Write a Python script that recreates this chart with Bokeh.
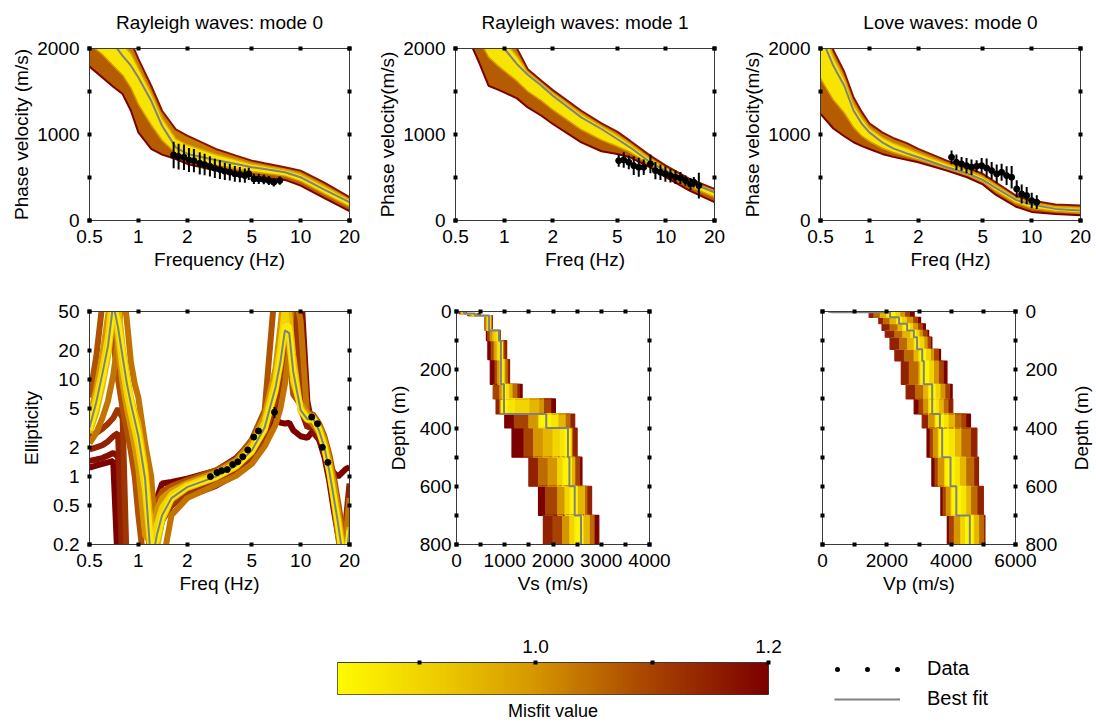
import numpy as np
from bokeh.plotting import figure
from bokeh.models import (Range1d, FixedTicker, LinearAxis, LogAxis, Legend,
                          LegendItem, LinearColorMapper, CustomLabelingPolicy)
from bokeh.layouts import column, row
from bokeh.embed import file_html
from bokeh.resources import INLINE

FONT = "Liberation Sans"
GRAY = "#808080"
FRAME = "#3a3a3a"

# ------------------------------------------------------------------ data
MISFIT_LOW, MISFIT_HIGH = 0.83, 1.2
CB_TICKS = [0.9, 1.0, 1.1, 1.2]
CB_LABELS = {0.9: "", 1.0: "1.0", 1.1: "", 1.2: "1.2"}

FREQ = [0.5, 0.6, 0.7, 0.8, 0.9, 1.0, 1.2, 1.4, 1.7, 2, 3, 4, 5, 6, 8, 10, 14, 20]
FREQ_TICKS = [0.5, 1, 2, 5, 10, 20]
FREQ_LABELS = {0.5: "0.5", 1: "1", 2: "2", 5: "5", 10: "10", 20: "20"}
VEL_TICKS = [0, 500, 1000, 1500, 2000]
VEL_LABELS = {0: "0", 500: "", 1000: "1000", 1500: "", 2000: "2000"}

# Rayleigh mode 0: envelope curves and best model
R0_BEST = [2350, 2200, 2060, 1915, 1800, 1663, 1392, 1102, 850, 774, 704, 658, 619, 600, 561, 503, 360, 213]
R0_HIGH2 = [2500, 2400, 2300, 2200, 2080, 1880, 1567, 1276, 1060, 986, 832, 754, 696, 665, 619, 580, 440, 271]
R0_HIGH1 = [2420, 2300, 2180, 2050, 1940, 1770, 1480, 1190, 950, 880, 768, 706, 658, 632, 590, 540, 400, 242]
R0_LOW1 = [2050, 1930, 1800, 1690, 1540, 1350, 1110, 930, 780, 716, 642, 600, 566, 548, 516, 455, 310, 160]
R0_LOW2 = [1790, 1663, 1555, 1470, 1276, 1025, 832, 766, 715, 658, 580, 542, 514, 495, 472, 406, 260, 108]
R0_DATA_F = [1.65, 1.77, 1.91, 2.05, 2.2, 2.39, 2.56, 2.76, 2.96, 3.18, 3.41, 3.66, 3.93, 4.22, 4.53, 4.79, 5.15, 5.52, 5.93, 6.37, 6.83, 7.44]
R0_DATA_V = [762, 743, 735, 704, 696, 665, 650, 630, 607, 592, 572, 561, 542, 534, 522, 542, 483, 483, 476, 464, 445, 464]
R0_DATA_E = [155, 150, 148, 140, 135, 130, 125, 118, 112, 108, 100, 96, 92, 88, 82, 70, 60, 58, 55, 52, 50, 48]

# Rayleigh mode 1
R1_BEST = [2700, 2500, 2350, 2220, 2100, 2000, 1818, 1694, 1566, 1450, 1199, 1064, 948, 851, 677, 580, 445, 329]
R1_HIGH2 = [3000, 2800, 2600, 2450, 2300, 2180, 2000, 1760, 1625, 1516, 1276, 1129, 1033, 928, 754, 638, 483, 367]
R1_HIGH1 = [2850, 2650, 2470, 2330, 2200, 2090, 1910, 1727, 1595, 1483, 1238, 1097, 990, 890, 716, 609, 464, 348]
R1_LOW1 = [2520, 2310, 2100, 1900, 1810, 1740, 1620, 1500, 1390, 1285, 1055, 935, 860, 793, 648, 541, 396, 271]
R1_LOW2 = [2350, 2120, 1837, 1567, 1528, 1489, 1420, 1315, 1218, 1122, 909, 805, 774, 735, 619, 503, 348, 213]
R1_DATA_F = [5.11, 5.49, 5.90, 6.33, 6.80, 7.30, 8.03, 8.62, 9.26, 9.94, 10.68, 11.47, 12.31, 13.22, 14.20, 14.89, 16.0]
R1_DATA_V = [696, 704, 677, 638, 619, 619, 658, 580, 561, 542, 522, 503, 495, 464, 425, 445, 406]
R1_DATA_E = [70, 90, 80, 110, 110, 90, 110, 100, 90, 90, 80, 80, 70, 60, 70, 60, 150]

# Love mode 0
L0_BEST = [2150, 1799, 1567, 1276, 1122, 1025, 909, 839, 781, 735, 619, 549, 472, 379, 240, 186, 135, 116]
L0_HIGH2 = [2500, 1980, 1730, 1430, 1260, 1130, 1025, 960, 900, 832, 696, 619, 542, 445, 290, 232, 186, 174]
L0_HIGH1 = [2300, 1900, 1650, 1350, 1190, 1075, 965, 900, 840, 785, 658, 584, 507, 412, 265, 209, 160, 145]
L0_LOW1 = [1650, 1400, 1250, 1080, 980, 920, 840, 790, 745, 706, 600, 526, 446, 340, 200, 143, 105, 88]
L0_LOW2 = [1240, 1070, 980, 910, 865, 832, 774, 740, 705, 677, 580, 503, 420, 300, 160, 100, 75, 60]
L0_DATA_F = [3.21, 3.44, 3.70, 3.97, 4.26, 4.58, 4.92, 5.28, 5.67, 6.09, 6.53, 7.01, 7.53, 8.09, 8.68, 9.32, 10.01, 10.75]
L0_DATA_V = [735, 677, 658, 638, 620, 630, 638, 610, 580, 542, 561, 522, 503, 367, 309, 290, 232, 213]
L0_DATA_E = [80, 90, 80, 90, 90, 70, 90, 110, 100, 110, 100, 110, 130, 100, 110, 100, 90, 80]

# Ellipticity (values above 50 / below 0.2 lie off the chart)
ELL_F = [0.5, 0.55, 0.6, 0.65, 0.7, 0.75, 0.8, 0.85, 0.9, 0.95, 1.0, 1.1, 1.2, 1.3, 1.4, 1.6, 2, 3, 4, 5,
         6, 7, 7.5, 8, 8.5, 9, 10, 11, 12, 13, 14, 15, 16, 17, 18, 19, 20]
ELL_TICKS = [0.2, 0.5, 1, 2, 5, 10, 20, 50]
ELL_LABELS = {0.2: "0.2", 0.5: "0.5", 1: "1", 2: "2", 5: "5", 10: "10", 20: "20", 50: "50"}
ELL_BEST = [3.2, 5.8, 11.4, 22, 60, 34, 17, 9, 5.6, 3.8, 2.6, 0.95, 0.12, 0.25, 0.4, 0.6, 0.78, 1.0, 1.3, 1.86,
            3.2, 8.3, 15, 32, 30, 12, 4.8, 3.9, 3.9, 2.96, 2.0, 1.15, 0.61, 0.33, 0.17, 0.12, 0.3]
ELL_MISFIT = [1.2, 1.18, 1.15, 1.12, 1.08, 1.04, 1.0, 0.95, 0.9, 0.86]
ELL_M1 = [1.24, 1.3, 1.35, 1.4, 1.45, 0.1, 0.1, 0.1, 0.1, 0.1, 0.1, 0.1, 0.1, 0.6, 0.85, 0.88, 0.95, 1.15, 1.55, 2.3,
          3.4, 3.8, 3.6, 3.5, 3.6, 3.0, 2.6, 2.5, 3.0, 2.4, 1.8, 1.3, 1.1, 1.0, 1.1, 1.2, 1.25]
ELL_M2 = [1.45, 1.5, 1.55, 1.65, 1.75, 1.6, 0.1, 0.1, 0.1, 0.1, 0.1, 0.1, 0.1, 0.3, 0.45, 0.55, 0.62, 0.8, 1.05, 1.4,
          2.1, 3.8, 6, 12, 40, 100, 100, 6, 2.8, 2.4, 1.6, 0.9, 0.45, 0.25, 0.15, 0.3, 0.65]
ELL_M3 = [1.9, 2.0, 2.1, 2.3, 2.6, 2.8, 0.1, 0.1, 0.1, 0.1, 0.1, 0.1, 0.15, 0.4, 0.6, 0.7, 0.8, 0.98, 1.3, 1.9,
          3.2, 8, 20, 100, 100, 30, 5, 3.2, 3.4, 2.7, 1.9, 1.1, 0.6, 0.35, 0.2, 0.35, 0.85]
ELL_M4 = [2.6, 2.8, 3.1, 3.5, 4.0, 5.0, 4.0, 0.1, 0.1, 0.1, 0.1, 0.1, 0.1, 0.2, 0.35, 0.5, 0.68, 0.9, 1.2, 1.7,
          2.7, 6, 11, 30, 100, 100, 12, 4.5, 3.9, 3.0, 2.1, 1.2, 0.6, 0.3, 0.15, 0.12, 0.5]
ELL_M5 = [6.5, 17, 60, 100, 25, 10, 5, 3, 1.8, 1.0, 0.4, 0.1, 0.3, 0.55, 0.7, 0.8, 0.92, 1.15, 1.5, 2.4,
          4.8, 100, 100, 100, 18, 7, 5.5, 4.6, 4.3, 3.5, 2.6, 1.7, 1.0, 0.55, 0.3, 0.18, 0.2]
ELL_M6 = [2.2, 2.8, 4.0, 6.0, 11, 25, 100, 40, 15, 9, 6.5, 2.2, 1.0, 0.15, 0.12, 0.4, 0.6, 0.82, 1.02, 1.35,
          2.05, 3.4, 5, 9, 20, 100, 40, 4, 3.4, 2.8, 2.0, 1.2, 0.55, 0.25, 0.12, 0.25, 0.6]
ELL_M7 = [4.0, 8, 18, 45, 100, 22, 9, 5, 3.2, 2.0, 1.2, 0.25, 0.2, 0.45, 0.6, 0.72, 0.86, 1.1, 1.45, 2.2,
          4.2, 13, 35, 100, 30, 9, 5.6, 4.4, 4.1, 3.3, 2.4, 1.5, 0.85, 0.45, 0.22, 0.12, 0.2]
ELL_M8 = [2.8, 4.5, 8.5, 17, 45, 60, 22, 11, 6.5, 4.6, 3.5, 1.3, 0.3, 0.18, 0.35, 0.58, 0.76, 0.97, 1.25, 1.78,
          3.0, 7.5, 14, 30, 50, 18, 4.7, 3.8, 3.8, 2.9, 1.95, 1.1, 0.58, 0.3, 0.15, 0.13, 0.3]
ELL_M9 = [3.6, 6.5, 13, 28, 90, 30, 13, 7, 4.4, 3.0, 2.0, 0.7, 0.15, 0.32, 0.48, 0.66, 0.82, 1.04, 1.37, 2.0,
          3.6, 10, 22, 55, 25, 10, 5.0, 4.1, 4.0, 3.1, 2.1, 1.25, 0.66, 0.36, 0.19, 0.12, 0.25]
ELL_M10 = [3.0, 5.3, 10, 20, 55, 40, 19, 10, 6, 4.0, 2.8, 1.1, 0.18, 0.22, 0.38, 0.6, 0.78, 0.99, 1.28, 1.82,
           3.1, 8, 16, 36, 35, 13, 4.9, 3.9, 3.9, 3.0, 2.0, 1.15, 0.6, 0.32, 0.16, 0.12, 0.28]
ELL_DATA_F = [2.78, 3.05, 3.26, 3.53, 3.81, 4.1, 4.4, 4.72, 5.14, 5.5, 6.9, 11.7, 12.7, 13.6, 14.7]
ELL_DATA_E = [1.0, 1.1, 1.15, 1.18, 1.33, 1.42, 1.6, 1.88, 2.55, 2.95, 4.6, 4.1, 3.5, 2.0, 1.4]
ELL_DATA_ERR = [0.05, 0.05, 0.05, 0.05, 0.06, 0.06, 0.08, 0.1, 0.15, 0.15, 0.6, 0.2, 0.2, 0.1, 0.08]

# Vs profiles (layer tops in m, velocity per layer)
DEPTH_MAX = 800
DEPTH_TICKS = [0, 100, 200, 300, 400, 500, 600, 700, 800]
DEPTH_LABELS = {0: "0", 100: "", 200: "200", 300: "", 400: "400", 500: "", 600: "600", 700: "", 800: "800"}
VS_TICKS = [0, 500, 1000, 1500, 2000, 2500, 3000, 3500, 4000]
VS_LABELS = {0: "0", 500: "", 1000: "1000", 1500: "", 2000: "2000", 2500: "", 3000: "3000", 3500: "", 4000: "4000"}
VS_TOP = [0, 7, 14, 65, 100, 165, 250, 300, 352, 400, 500, 600, 700]
VS_BEST = [150, 380, 675, 880, 920, 920, 985, 985, 1860, 2310, 2340, 2450, 2580]
VS_MISFIT = [0.84, 0.87, 0.90, 0.95, 1.00, 1.05, 1.10, 1.15, 1.20]
VS_M1 = [140, 360, 660, 860, 900, 940, 1010, 1050, 1950, 2250, 2380, 2500, 2620]
VS_M2 = [120, 330, 700, 830, 870, 980, 1080, 1200, 2100, 2150, 2200, 2350, 2450]
VS_M3 = [160, 400, 640, 780, 850, 900, 950, 1500, 1700, 2000, 2100, 2250, 2350]
VS_M4 = [100, 300, 620, 750, 820, 1000, 1150, 1700, 2250, 1800, 2450, 2650, 2750]
VS_M5 = [180, 420, 720, 700, 780, 850, 900, 1800, 1500, 1600, 1900, 2100, 2200]
VS_M6 = [80, 260, 600, 900, 980, 1050, 1250, 900, 2350, 2400, 1700, 2700, 2850]
VS_M7 = [190, 460, 730, 650, 720, 800, 760, 1950, 1200, 1400, 2550, 1850, 2000]
VS_M8 = [60, 230, 590, 910, 1040, 1100, 1300, 820, 2450, 2500, 1500, 2800, 1800]
VS_M9 = [200, 490, 740, 620, 650, 700, 1360, 2050, 1000, 1150, 2600, 1700, 2950]

# Vp profiles
VP_TICKS = [0, 1000, 2000, 3000, 4000, 5000, 6000]
VP_LABELS = {0: "0", 1000: "", 2000: "2000", 3000: "", 4000: "4000", 5000: "", 6000: "6000"}
VP_TOP = [0, 3, 20, 42, 65, 88, 130, 170, 250, 300, 352, 400, 500, 600, 700]
VP_BEST = [260, 2100, 2380, 2630, 2840, 2940, 3100, 3150, 3410, 3410, 3650, 3720, 3980, 4160, 4580]
VP_MISFIT = [0.84, 0.87, 0.90, 0.95, 1.00, 1.05, 1.10, 1.15, 1.20]
VP_M1 = [270, 2250, 2450, 2700, 2900, 3000, 3200, 3300, 3500, 3500, 3750, 3900, 4100, 4300, 4450]
VP_M2 = [300, 2000, 2300, 2500, 2750, 2850, 3000, 3050, 3300, 3600, 3900, 4100, 4250, 4450, 4700]
VP_M3 = [230, 2400, 2600, 2800, 3000, 3150, 3350, 3450, 3650, 3300, 3500, 3600, 3800, 4000, 4300]
VP_M4 = [350, 1800, 2100, 2350, 2500, 2650, 2850, 3000, 3150, 3750, 4100, 4300, 4450, 4600, 4850]
VP_M5 = [250, 2550, 2800, 2950, 3100, 3250, 3450, 3600, 3800, 3150, 3300, 3450, 3600, 3850, 4100]
VP_M6 = [400, 1600, 1900, 2100, 2250, 2400, 2550, 2700, 2900, 3900, 4300, 4600, 4700, 4800, 5000]
VP_M7 = [220, 2700, 2950, 3100, 3250, 3350, 3600, 3750, 3950, 3000, 4450, 3350, 3500, 3750, 3950]
VP_M8 = [420, 1450, 1750, 1850, 1950, 2100, 2250, 2450, 2600, 4050, 3100, 4800, 4850, 5000, 5050]
VP_M9 = [200, 2850, 3050, 3200, 3300, 3400, 3670, 3870, 4030, 2850, 4600, 3250, 3400, 3680, 3880]

# ------------------------------------------------------------------ colours
CMAP_STOPS = [(0.0, (255, 250, 0)), (0.25, (236, 200, 0)), (0.45, (214, 152, 0)),
              (0.7, (172, 74, 0)), (1.0, (124, 0, 0))]


def build_palette(n=256):
    pos = [s[0] for s in CMAP_STOPS]
    out = []
    for t in np.linspace(0, 1, n):
        rgb = [int(round(np.interp(t, pos, [s[1][k] for s in CMAP_STOPS]))) for k in range(3)]
        out.append("#%02x%02x%02x" % tuple(rgb))
    return out


PALETTE = build_palette()


def mcolor(m):
    t = (m - MISFIT_LOW) / (MISFIT_HIGH - MISFIT_LOW)
    i = int(round(min(max(t, 0), 1) * (len(PALETTE) - 1)))
    return PALETTE[i]


# ------------------------------------------------------------------ helpers
def no_labels():
    return CustomLabelingPolicy(code="const idx = Array.from(indices); for (const i of idx) indices.unset(i); return indices")


def style_axis(ax, ticks, labels=None, hide=False, title=None, standoff=8, label_standoff=4):
    ax.ticker = FixedTicker(ticks=ticks)
    ax.major_tick_line_color = "black"
    ax.major_tick_line_width = 4
    ax.major_tick_in = 2
    ax.major_tick_out = 2
    ax.minor_tick_line_color = None
    ax.axis_line_color = FRAME
    ax.axis_line_width = 1
    if hide:
        ax.major_label_text_font_size = "1px"
        ax.major_label_standoff = 0
        ax.major_label_policy = no_labels()
    else:
        ax.major_label_text_font = FONT
        ax.major_label_text_font_size = "19px"
        ax.major_label_text_color = "black"
        ax.major_label_standoff = standoff
        if labels is not None:
            ax.major_label_overrides = labels
    if title:
        ax.axis_label = title
        ax.axis_label_text_font = FONT
        ax.axis_label_text_font_size = "19px"
        ax.axis_label_text_font_style = "normal"
        ax.axis_label_text_color = "black"
        ax.axis_label_standoff = label_standoff


def unalign(p):
    if "frame_align" in p.properties():
        p.frame_align = False


def make_panel(width, height, borders, xr, yr, xlog, ylog, xticks, xlabels, yticks, ylabels,
               xtitle, ytitle, title=None, yside="left", ystand=8, ylabstand=4):
    bl, br, bt, bb = borders
    p = figure(width=width, height=height, x_range=xr, y_range=yr,
               x_axis_type="log" if xlog else "linear",
               y_axis_type="log" if ylog else "linear",
               y_axis_location=yside, output_backend="svg", toolbar_location=None,
               min_border_left=bl, min_border_right=br, min_border_top=bt, min_border_bottom=bb)
    unalign(p)
    p.xgrid.visible = False
    p.ygrid.visible = False
    p.outline_line_color = FRAME
    p.outline_line_width = 1
    p.background_fill_color = "white"
    p.border_fill_color = "white"
    if title:
        p.title.text = title
        p.title.text_font = FONT
        p.title.text_font_size = "19px"
        p.title.text_font_style = "normal"
        p.title.text_color = "black"
        p.title.align = "center"
        p.title.standoff = 19
    style_axis(p.xaxis[0], xticks, xlabels, title=xtitle, standoff=7, label_standoff=3)
    style_axis(p.yaxis[0], yticks, ylabels, title=ytitle, standoff=ystand, label_standoff=ylabstand)
    XA = LogAxis if xlog else LinearAxis
    YA = LogAxis if ylog else LinearAxis
    top = XA()
    style_axis(top, xticks, hide=True)
    p.add_layout(top, "above")
    other = YA()
    style_axis(other, yticks, hide=True)
    p.add_layout(other, "right" if yside == "left" else "left")
    return p


def dispersion(p, low2, low1, best, high1, high2, df, dv, de):
    p.varea(x=FREQ, y1=low2, y2=low1, fill_color=mcolor(1.07))
    p.varea(x=FREQ, y1=low1, y2=high1, fill_color=mcolor(0.87))
    p.varea(x=FREQ, y1=high1, y2=high2, fill_color=mcolor(1.03))
    p.line(FREQ, low1, line_color=mcolor(1.0), line_width=1.5)
    p.line(FREQ, high1, line_color=mcolor(0.97), line_width=1.5)
    p.line(FREQ, low2, line_color=mcolor(1.2), line_width=2)
    p.line(FREQ, high2, line_color=mcolor(1.17), line_width=2)
    p.line(FREQ, best, line_color=GRAY, line_width=2)
    p.segment(x0=df, x1=df, y0=[v - e for v, e in zip(dv, de)], y1=[v + e for v, e in zip(dv, de)],
              line_color="black", line_width=2)
    p.scatter(df, dv, size=6, fill_color="black", line_color="black")


def profile(p, tops, models, misfits, best):
    bottoms = tops[1:] + [DEPTH_MAX]
    L, R, T, B, C = [], [], [], [], []
    for j in range(len(tops)):
        vals = sorted((m[j], k) for k, m in enumerate(models))
        b = best[j]
        for (a, ia), (c, ic) in zip(vals[:-1], vals[1:]):
            if c <= b:
                outer = ia
            elif a >= b:
                outer = ic
            else:
                outer = ia if misfits[ia] < misfits[ic] else ic
            L.append(a); R.append(c); T.append(tops[j]); B.append(bottoms[j])
            C.append(mcolor(misfits[outer]))
    p.quad(left=L, right=R, top=T, bottom=B, fill_color=C, line_color=None)

    def steps(vals):
        xs, ys = [], []
        for j, v in enumerate(vals):
            xs += [v, v]
            ys += [tops[j], bottoms[j]]
        return xs, ys

    order = sorted(range(len(models)), key=lambda k: -misfits[k])
    for k in order:
        xs, ys = steps(models[k])
        p.line(xs, ys, line_color=mcolor(misfits[k]), line_width=1.2)
    xs, ys = steps(best)
    p.line(xs, ys, line_color=GRAY, line_width=2)


# ------------------------------------------------------------------ row 1
FR = lambda: Range1d(0.5, 20)
VR = lambda: Range1d(0, 2000)

pA = make_panel(365, 280, (89, 16, 48, 60), FR(), VR(), True, False, FREQ_TICKS, FREQ_LABELS,
                VEL_TICKS, VEL_LABELS, "Frequency (Hz)", "Phase velocity (m/s)",
                title="Rayleigh waves: mode 0", ylabstand=2)
dispersion(pA, R0_LOW2, R0_LOW1, R0_BEST, R0_HIGH1, R0_HIGH2, R0_DATA_F, R0_DATA_V, R0_DATA_E)

pB = make_panel(365, 280, (90, 16, 48, 60), FR(), VR(), True, False, FREQ_TICKS, FREQ_LABELS,
                VEL_TICKS, VEL_LABELS, "Freq (Hz)", "Phase velocity(m/s)",
                title="Rayleigh waves: mode 1", ylabstand=2)
dispersion(pB, R1_LOW2, R1_LOW1, R1_BEST, R1_HIGH1, R1_HIGH2, R1_DATA_F, R1_DATA_V, R1_DATA_E)

pC = make_panel(366, 280, (90, 16, 48, 60), FR(), VR(), True, False, FREQ_TICKS, FREQ_LABELS,
                VEL_TICKS, VEL_LABELS, "Freq (Hz)", "Phase velocity(m/s)",
                title="Love waves: mode 0", ylabstand=2)
dispersion(pC, L0_LOW2, L0_LOW1, L0_BEST, L0_HIGH1, L0_HIGH2, L0_DATA_F, L0_DATA_V, L0_DATA_E)

# ------------------------------------------------------------------ row 2
pD = make_panel(365, 324, (89, 16, 31, 60), FR(), Range1d(0.2, 50), True, True, FREQ_TICKS, FREQ_LABELS,
                ELL_TICKS, ELL_LABELS, "Freq (Hz)", "Ellipticity", ylabstand=8)
ell_models = [ELL_M1, ELL_M2, ELL_M3, ELL_M4, ELL_M5, ELL_M6, ELL_M7, ELL_M8, ELL_M9, ELL_M10]
for k in sorted(range(len(ell_models)), key=lambda k: -ELL_MISFIT[k]):
    pD.line(ELL_F, ell_models[k], line_color=mcolor(ELL_MISFIT[k]), line_width=6)
pD.line(ELL_F, ELL_BEST, line_color=GRAY, line_width=2)
pD.segment(x0=ELL_DATA_F, x1=ELL_DATA_F,
           y0=[e - s for e, s in zip(ELL_DATA_E, ELL_DATA_ERR)],
           y1=[e + s for e, s in zip(ELL_DATA_E, ELL_DATA_ERR)], line_color="black", line_width=2)
pD.scatter(ELL_DATA_F, ELL_DATA_E, size=6, fill_color="black", line_color="black")

pE = make_panel(427, 324, (91, 143, 31, 60), Range1d(0, 4000), Range1d(DEPTH_MAX, 0), False, False,
                VS_TICKS, VS_LABELS, DEPTH_TICKS, DEPTH_LABELS, "Vs (m/s)", "Depth (m)",
                ystand=3, ylabstand=8)
profile(pE, VS_TOP, [VS_M1, VS_M2, VS_M3, VS_M4, VS_M5, VS_M6, VS_M7, VS_M8, VS_M9], VS_MISFIT, VS_BEST)

pF = make_panel(276, 324, (30, 53, 31, 60), Range1d(0, 6000), Range1d(DEPTH_MAX, 0), False, False,
                VP_TICKS, VP_LABELS, DEPTH_TICKS, DEPTH_LABELS, "Vp (m/s)", None,
                yside="right", ystand=8)
profile(pF, VP_TOP, [VP_M1, VP_M2, VP_M3, VP_M4, VP_M5, VP_M6, VP_M7, VP_M8, VP_M9], VP_MISFIT, VP_BEST)

# side strip that carries the Vp depth-axis title, reading bottom to top
pG = figure(width=28, height=324, x_range=Range1d(0, 1), y_range=Range1d(DEPTH_MAX, 0),
            x_axis_location=None, y_axis_location="left", output_backend="svg", toolbar_location=None,
            min_border_left=26, min_border_right=0, min_border_top=31, min_border_bottom=60)
unalign(pG)
pG.grid.visible = False
pG.outline_line_color = None
gy = pG.yaxis[0]
gy.ticker = FixedTicker(ticks=[])
gy.axis_line_color = None
gy.major_tick_line_color = None
gy.minor_tick_line_color = None
gy.major_label_text_font_size = "1px"
gy.axis_label = "Depth (m)"
gy.axis_label_text_font = FONT
gy.axis_label_text_font_size = "19px"
gy.axis_label_text_font_style = "normal"
gy.axis_label_text_color = "black"
gy.axis_label_standoff = 5

# ------------------------------------------------------------------ row 3: colour bar + legend
cb = figure(width=790, height=121, x_range=Range1d(MISFIT_LOW, MISFIT_HIGH), y_range=Range1d(0, 1),
            y_axis_location=None, output_backend="svg", toolbar_location=None,
            min_border_left=337, min_border_right=22, min_border_top=58, min_border_bottom=31)
unalign(cb)
cb.grid.visible = False
cb.outline_line_color = FRAME
cb.outline_line_width = 1
ramp = np.linspace(MISFIT_LOW, MISFIT_HIGH, 256).reshape(1, -1)
mapper = LinearColorMapper(palette=PALETTE, low=MISFIT_LOW, high=MISFIT_HIGH)
cb.image(image=[ramp], x=MISFIT_LOW, y=0, dw=MISFIT_HIGH - MISFIT_LOW, dh=1, color_mapper=mapper)
xb = cb.xaxis[0]
xb.ticker = FixedTicker(ticks=[])
xb.major_tick_line_color = None
xb.minor_tick_line_color = None
xb.axis_line_color = None
xb.major_label_text_font_size = "1px"
xb.axis_label = "Misfit value"
xb.axis_label_text_font = FONT
xb.axis_label_text_font_size = "18px"
xb.axis_label_text_font_style = "normal"
xb.axis_label_text_color = "black"
xb.axis_label_standoff = 6
cb_top = LinearAxis()
style_axis(cb_top, CB_TICKS, CB_LABELS, standoff=8)
cb.add_layout(cb_top, "above")

lg = figure(width=306, height=121, x_range=Range1d(0, 1), y_range=Range1d(0, 1),
            x_axis_location=None, y_axis_location=None, output_backend="svg", toolbar_location=None,
            min_border_left=0, min_border_right=0, min_border_top=0, min_border_bottom=0)
unalign(lg)
lg.grid.visible = False
lg.outline_line_color = None
NAN = [float("nan")]
r_data = lg.line(x=NAN, y=NAN, line_color="black", line_width=5, line_dash="0 30",
                 line_dash_offset=27, line_cap="round")
r_best = lg.line(x=NAN, y=NAN, line_color=GRAY, line_width=2)
legend = Legend(items=[LegendItem(label="Data", renderers=[r_data]),
                       LegendItem(label="Best fit", renderers=[r_best])],
                location=(44, 15), glyph_width=66, glyph_height=20, label_height=20,
                label_standoff=27, spacing=7, padding=0, margin=0,
                border_line_color=None, background_fill_alpha=0,
                label_text_font=FONT, label_text_font_size="20px", label_text_color="black")
lg.add_layout(legend)

layout = column(row(pA, pB, pC), row(pD, pE, pF, pG), row(cb, lg))

open("out.html", "w").write(file_html(layout, INLINE))
